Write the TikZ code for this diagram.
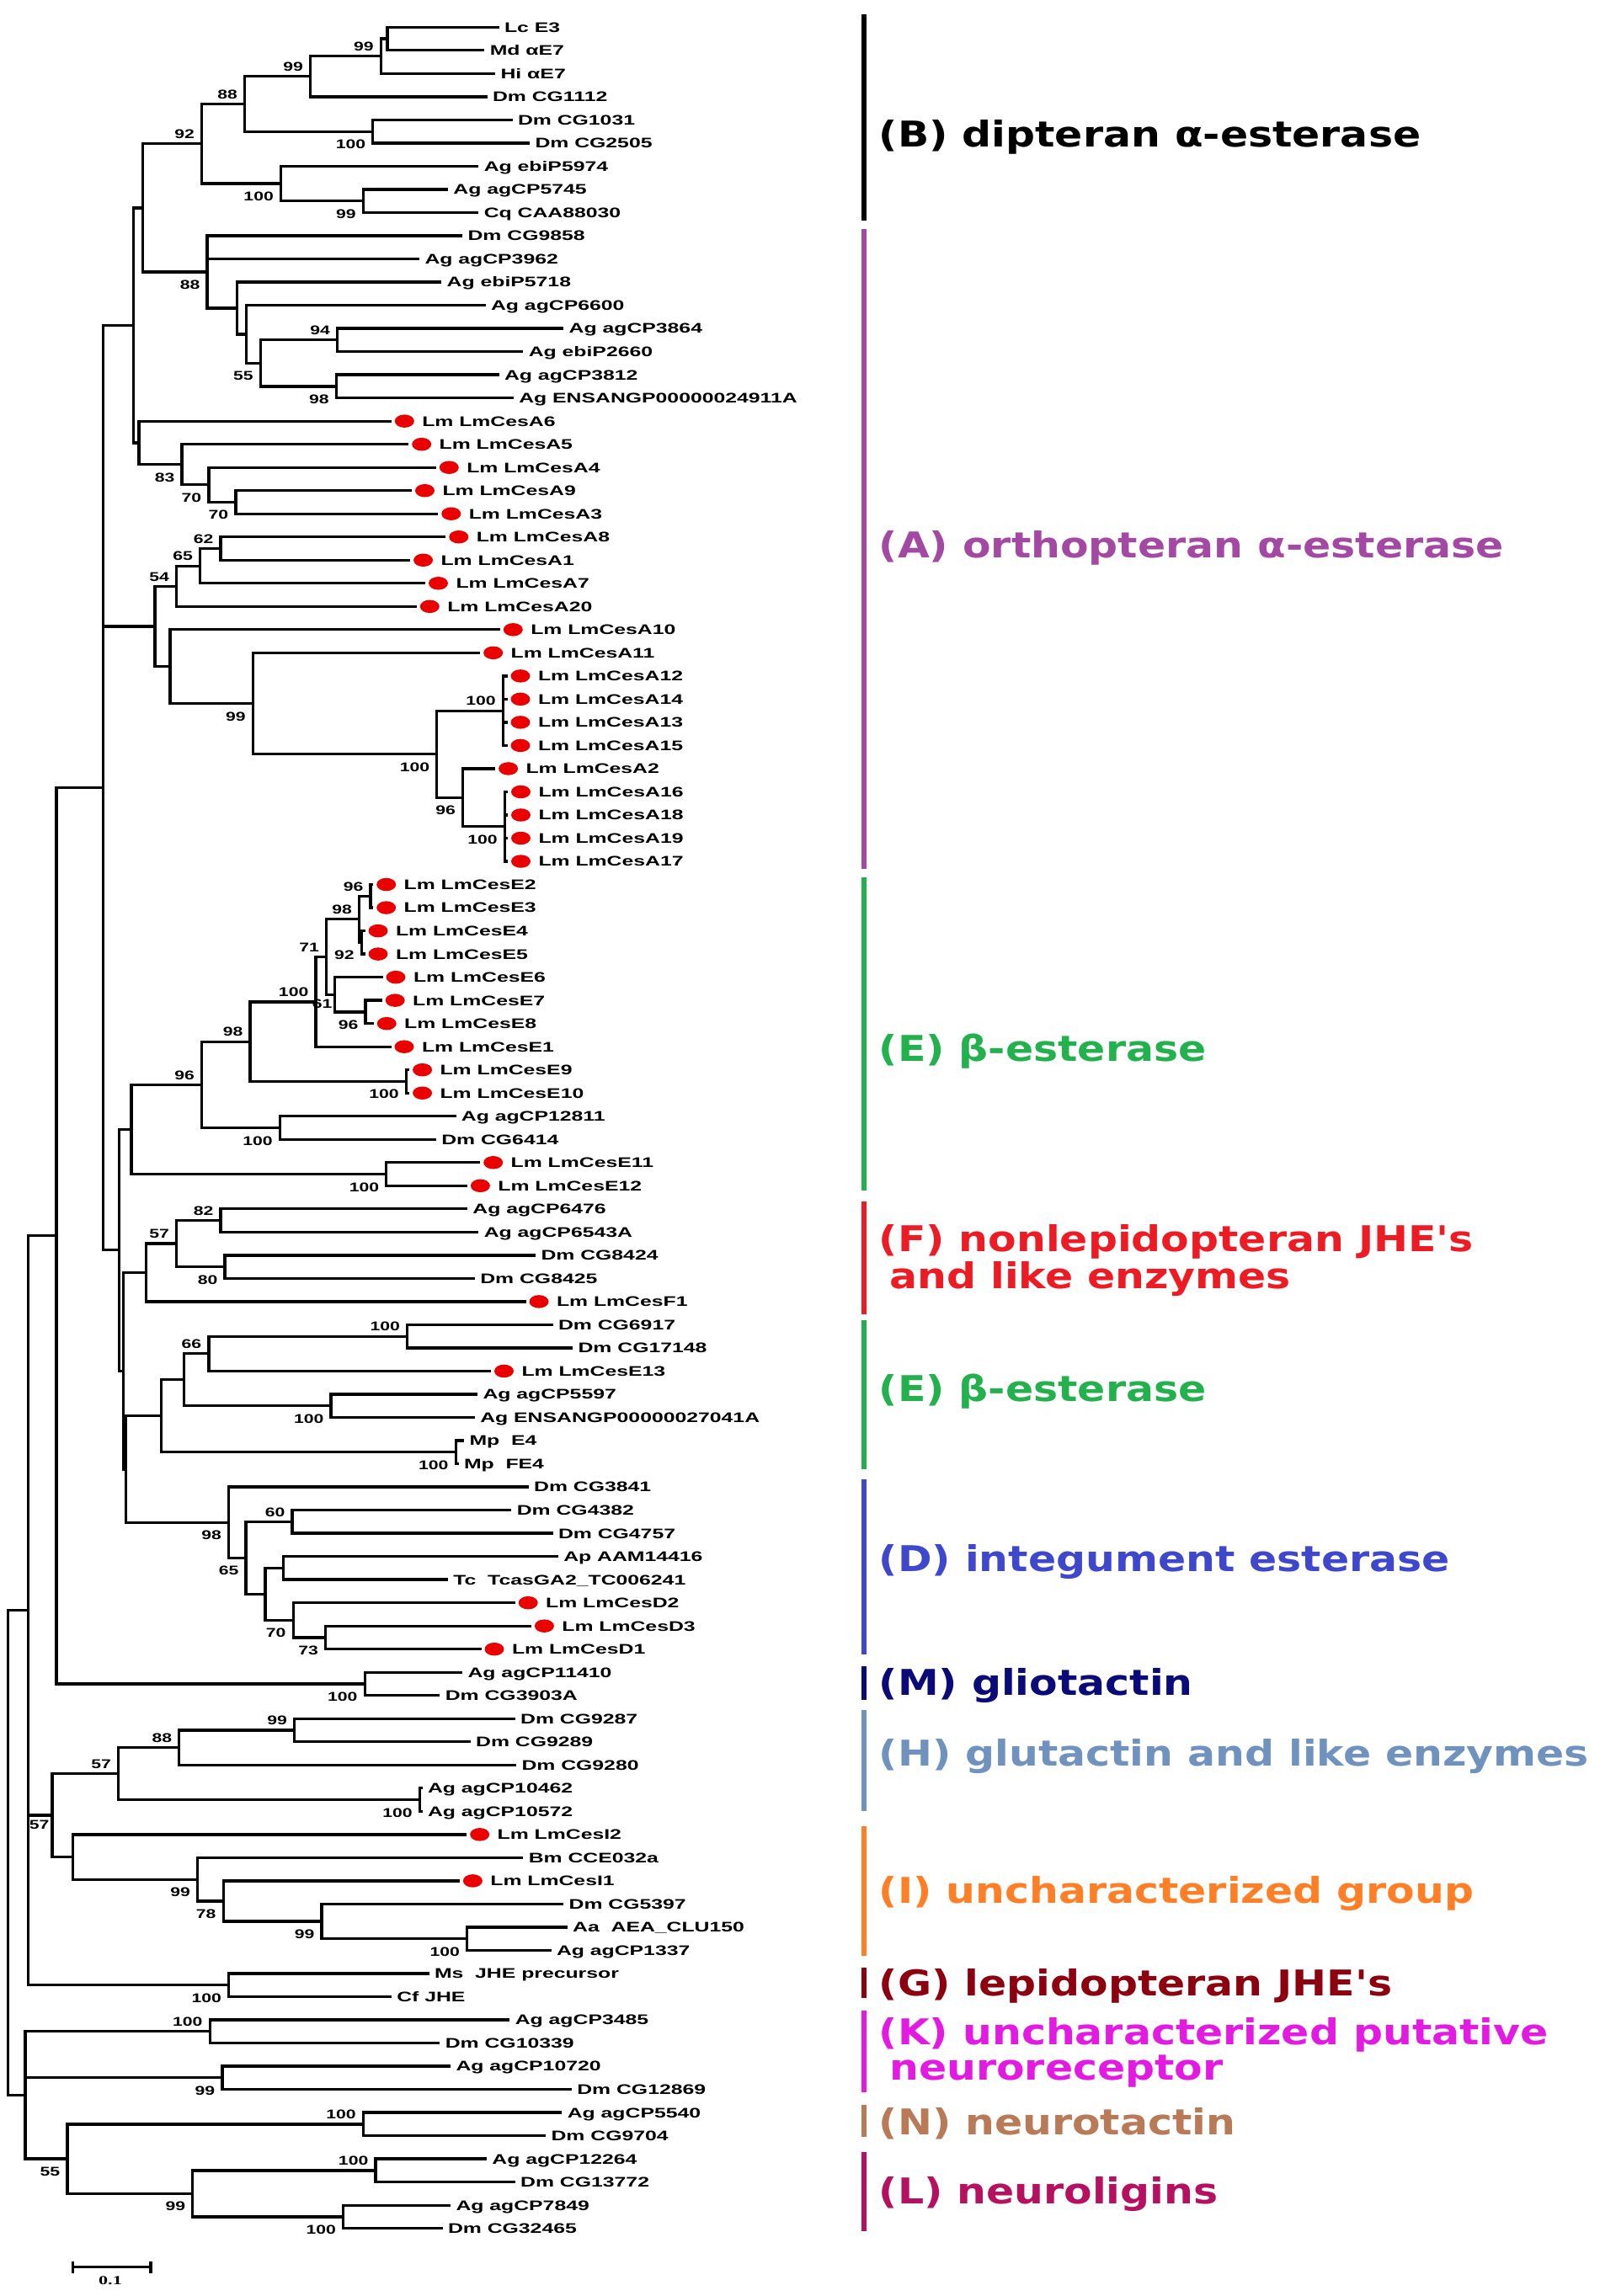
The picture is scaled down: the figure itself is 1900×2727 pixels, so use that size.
\documentclass[tikz,border=0pt]{standalone}
\usepackage{fontspec}
\usepackage{tikz}
\usetikzlibrary{positioning}
\usetikzlibrary{shapes.geometric}
\newfontfamily\treefont{Liberation Sans}[FakeStretch=1.5]
\newfontfamily\bootfont{Liberation Sans}[FakeStretch=1.4]
\newfontfamily\cladefont{DejaVu Sans}[FakeStretch=1.16]
\newfontfamily\barfont{Liberation Serif}[FakeStretch=1.5]
\definecolor{lmred}{RGB}{235,0,0}
\definecolor{cladeA}{RGB}{163,73,164}
\definecolor{cladeE}{RGB}{34,177,76}
\definecolor{cladeF}{RGB}{237,28,36}
\definecolor{cladeD}{RGB}{63,72,204}
\definecolor{cladeM}{RGB}{10,10,120}
\definecolor{cladeH}{RGB}{112,146,190}
\definecolor{cladeI}{RGB}{255,127,39}
\definecolor{cladeG}{RGB}{140,0,16}
\definecolor{cladeK}{RGB}{226,26,226}
\definecolor{cladeN}{RGB}{185,122,87}
\definecolor{cladeL}{RGB}{182,16,96}

\begin{document}
\begin{tikzpicture}[x=0.1mm, y=-0.1mm,
  branch/.style={line width=0.33mm, line cap=rect},
  tip/.style={anchor=west, inner sep=0pt, outer sep=0.8mm, text height=1.18mm, text depth=0pt,
    font=\treefont\bfseries\fontsize{4.7pt}{5.6pt}\selectfont},
  spot/.style={ellipse, fill=lmred, minimum width=2.3mm, minimum height=1.55mm, inner sep=0pt, outer sep=0.55mm},
  bs/.style={inner sep=0pt, text height=1.08mm, text depth=0pt, xshift=-0.8mm,
    font=\bootfont\bfseries\fontsize{4.3pt}{5pt}\selectfont},
  bsa/.style={bs, anchor=south east, yshift=0.55mm},
  bsb/.style={bs, anchor=north east, yshift=-0.9mm},
  cladebar/.style={line width=0.55mm},
  clade/.style={anchor=base west, inner sep=0pt, align=left,
    font=\cladefont\bfseries\fontsize{12pt}{11.6pt}\selectfont}]
\useasboundingbox (0,0) rectangle (1900,2727);

\begin{scope}[yshift=-0.478mm, y=-2.752mm]
	\node[tip] (LcE3) at (591.1,1) {Lc E3};
	\node[tip] (MdE7) at (573.8,2) {Md αE7};
	\node[tip] (HiE7) at (586.6,3) {Hi αE7};
	\node[tip] (CG1112) at (577,4) {Dm CG1112};
	\node[tip] (CG1031) at (607,5) {Dm CG1031};
	\node[tip] (CG2505) at (627.5,6) {Dm CG2505};
	\node[tip] (ebiP5974) at (566.8,7) {Ag ebiP5974};
	\node[tip] (agCP5745) at (530.4,8) {Ag agCP5745};
	\node[tip] (CAA88030) at (566.8,9) {Cq CAA88030};
	\node[tip] (CG9858) at (547.6,10) {Dm CG9858};
	\node[tip] (agCP3962) at (496.5,11) {Ag agCP3962};
	\node[tip] (ebiP5718) at (522.7,12) {Ag ebiP5718};
	\node[tip] (agCP6600) at (575.1,13) {Ag agCP6600};
	\node[tip] (agCP3864) at (667.7,14) {Ag agCP3864};
	\node[tip] (ebiP2660) at (619.8,15) {Ag ebiP2660};
	\node[tip] (agCP3812) at (591.1,16) {Ag agCP3812};
	\node[tip] (ENS24911) at (608.3,17) {Ag ENSANGP00000024911A};
	\node[tip] (agCP12811) at (539.9,48) {Ag agCP12811};
	\node[tip] (CG6414) at (516.3,49) {Dm CG6414};
	\node[tip] (agCP6476) at (553.4,52) {Ag agCP6476};
	\node[tip] (agCP6543A) at (566.8,53) {Ag agCP6543A};
	\node[tip] (CG8424) at (634.5,54) {Dm CG8424};
	\node[tip] (CG8425) at (562.3,55) {Dm CG8425};
	\node[tip] (CG6917) at (655,57) {Dm CG6917};
	\node[tip] (CG17148) at (678.6,58) {Dm CG17148};
	\node[tip] (agCP5597) at (565.5,60) {Ag agCP5597};
	\node[tip] (ENS27041) at (562.3,61) {Ag ENSANGP00000027041A};
	\node[tip] (MpE4) at (549.5,62) {Mp~~E4};
	\node[tip] (MpFE4) at (543,63) {Mp~~FE4};
	\node[tip] (CG3841) at (626.2,64) {Dm CG3841};
	\node[tip] (CG4382) at (605.8,65) {Dm CG4382};
	\node[tip] (CG4757) at (655,66) {Dm CG4757};
	\node[tip] (AAM14416) at (661.3,67) {Ap AAM14416};
	\node[tip] (TC006241) at (530.4,68) {Tc~~TcasGA2\_TC006241};
	\node[tip] (agCP11410) at (547.6,72) {Ag agCP11410};
	\node[tip] (CG3903A) at (520.8,73) {Dm CG3903A};
	\node[tip] (CG9287) at (610.2,74) {Dm CG9287};
	\node[tip] (CG9289) at (557.2,75) {Dm CG9289};
	\node[tip] (CG9280) at (611.5,76) {Dm CG9280};
	\node[tip] (agCP10462) at (500,77) {Ag agCP10462};
	\node[tip] (agCP10572) at (500,78) {Ag agCP10572};
	\node[tip] (CCE032a) at (619.8,80) {Bm CCE032a};
	\node[tip] (CG5397) at (667.7,82) {Dm CG5397};
	\node[tip] (CLU150) at (672.2,83) {Aa~~AEA\_CLU150};
	\node[tip] (agCP1337) at (653,84) {Ag agCP1337};
	\node[tip] (MsJHE) at (508,85) {Ms~~JHE precursor};
	\node[tip] (CfJHE) at (463.3,86) {Cf JHE};
	\node[tip] (agCP3485) at (603.8,87) {Ag agCP3485};
	\node[tip] (CG10339) at (520.8,88) {Dm CG10339};
	\node[tip] (agCP10720) at (533.5,89) {Ag agCP10720};
	\node[tip] (CG12869) at (677.3,90) {Dm CG12869};
	\node[tip] (agCP5540) at (665.8,91) {Ag agCP5540};
	\node[tip] (CG9704) at (646.6,92) {Dm CG9704};
	\node[tip] (agCP12264) at (576.4,93) {Ag agCP12264};
	\node[tip] (CG13772) at (610.2,94) {Dm CG13772};
	\node[tip] (agCP7849) at (533.5,95) {Ag agCP7849};
	\node[tip] (CG32465) at (524,96) {Dm CG32465};

	\foreach \n/\x/\r in {A6/480.3/18, A5/500.7/19, A4/533.3/20, A9/504.5/21, A3/535.8/22,
	    A8/544.8/23, A1/502.6/24, A7/520.5/25, A20/510.3/26, A10/609.3/27, A11/585.7/28,
	    A12/618/29, A14/618/30, A13/618/31, A15/618/32, A2/603.6/33,
	    A16/618.5/34, A18/618.5/35, A19/618.5/36, A17/618.5/37,
	    E2/458.7/38, E3/458.7/39, E4/449/40, E5/449/41, E6/470/42, E7/469.2/43, E8/459.2/44,
	    E1/480/45, E9/501.6/46, E10/501.6/47, E11/585.7/50, E12/570.4/51, F1/640/56,
	    E13/598.5/59, D2/627.2/69, D3/646.4/70, D1/587/71, I2/569.7/79, I1/561.4/81}
	{
		\node[spot] (s\n) at (\x,\r) {};
		\node[tip, right=-0.4mm of s\n] (\n) {Lm LmCes\n};
	}

	\coordinate (bLM) at (460.1,1.5);
	\coordinate (bLMH) at (452.4,2.25);
	\coordinate (b14) at (368.7,3.125);
	\coordinate (b56) at (442.8,5.5);
	\coordinate (b16) at (290.7,4.3125);
	\coordinate (b89) at (431.3,8.5);
	\coordinate (b79) at (333.5,7.75);
	\coordinate (bB) at (239.6,6.03125);
	\coordinate (a1415) at (400.6,14.5);
	\coordinate (a1617) at (399.4,16.5);
	\coordinate (a1417) at (309.3,15.5);
	\coordinate (a1317) at (292.7,14.25);
	\coordinate (a1217) at (281.2,13.125);
	\coordinate (aAg) at (246,11.5625);
	\coordinate (bAg) at (169.3,8.796875);
	\coordinate (a2122) at (279.9,21.5);
	\coordinate (a2022) at (247.9,20.75);
	\coordinate (a1922) at (216,19.875);
	\coordinate (a1822) at (164.9,18.9375);
	\coordinate (bAgA) at (158.5,13.8671875);
	\coordinate (a2324) at (262,23.5);
	\coordinate (a2325) at (237.7,24.25);
	\coordinate (a2326) at (209.6,25.125);
	\coordinate (aP1) at (597.4,30.5);
	\coordinate (aP2) at (599.4,35.5);
	\coordinate (a3337) at (549.5,34.25);
	\coordinate (a2937) at (518.8,32.375);
	\coordinate (a2837) at (300.3,30.1875);
	\coordinate (a2737) at (201.9,28.59375);
	\coordinate (a2337) at (184,26.859375);
	\coordinate (e3839) at (440,38.5);
	\coordinate (e4041) at (429.4,40.5);
	\coordinate (e3841) at (426.5,39.5);
	\coordinate (e4344) at (434,43.5);
	\coordinate (e4244) at (397.2,42.75);
	\coordinate (e3844) at (387.5,41.125);
	\coordinate (e3845) at (375,43.0625);
	\coordinate (e4647) at (482.4,46.5);
	\coordinate (e3847) at (297.1,44.78125);
	\coordinate (e4849) at (332.3,48.5);
	\coordinate (e3849) at (239.6,46.640625);
	\coordinate (e5051) at (458.8,50.5);
	\coordinate (e3851) at (156,48.5703125);
	\coordinate (f5253) at (262,52.5);
	\coordinate (f5455) at (267.1,54.5);
	\coordinate (f5255) at (209.6,53.5);
	\coordinate (f5256) at (173.5,54.75);
	\coordinate (g5758) at (483.7,57.5);
	\coordinate (g5759) at (247.9,58.25);
	\coordinate (g6061) at (393,60.5);
	\coordinate (g5761) at (218.5,59.375);
	\coordinate (g6263) at (541.2,62.5);
	\coordinate (g5763) at (191.7,60.9375);
	\coordinate (d6566) at (347,65.5);
	\coordinate (d6768) at (336.7,67.5);
	\coordinate (d7071) at (386.6,70.5);
	\coordinate (d6971) at (348.2,69.75);
	\coordinate (d6771) at (315,68.625);
	\coordinate (d6571) at (292,67.0625);
	\coordinate (d6471) at (271.6,65.53125);
	\coordinate (nB) at (149.5,63.234375);
	\coordinate (nA) at (146.7,58.9921875);
	\coordinate (n222) at (141.8,53.78125);
	\coordinate (n192) at (122.7,33.82421875);
	\coordinate (m7273) at (433.2,72.5);
	\coordinate (n105) at (67.1,53.162109);
	\coordinate (h7475) at (349.5,74.5);
	\coordinate (h7476) at (212.8,75.25);
	\coordinate (h7778) at (498.4,77.5);
	\coordinate (h7478) at (140.6,76.375);
	\coordinate (i8384) at (554.6,83.5);
	\coordinate (i8284) at (382.1,82.75);
	\coordinate (i8184) at (265.2,81.875);
	\coordinate (i8084) at (234.5,80.9375);
	\coordinate (i7984) at (86.3,79.96875);
	\coordinate (hi) at (62,78.171875);
	\coordinate (g8586) at (271.6,85.5);
	\coordinate (n52) at (33.2,69.331055);
	\coordinate (k8788) at (249.2,87.5);
	\coordinate (k8990) at (263.9,89.5);
	\coordinate (n9192) at (431.3,91.5);
	\coordinate (l9394) at (446,93.5);
	\coordinate (l9596) at (407.7,95.5);
	\coordinate (l9396) at (228.8,94.5);
	\coordinate (nl) at (79.9,93);
	\coordinate (k47) at (30,90.25);
	\coordinate (root) at (9.6,79.790527);

	\foreach \p/\c in {bLM/LcE3, bLM/MdE7, bLMH/bLM, bLMH/HiE7, b14/bLMH, b14/CG1112,
	    b56/CG1031, b56/CG2505, b16/b14, b16/b56, b89/agCP5745, b89/CAA88030,
	    b79/ebiP5974, b79/b89, bB/b16, bB/b79,
	    a1415/agCP3864, a1415/ebiP2660, a1617/agCP3812, a1617/ENS24911, a1417/a1415, a1417/a1617,
	    a1317/agCP6600, a1317/a1417, a1217/ebiP5718, a1217/a1317,
	    aAg/CG9858, aAg/agCP3962, aAg/a1217, bAg/bB, bAg/aAg,
	    a2122/sA9, a2122/sA3, a2022/sA4, a2022/a2122, a1922/sA5, a1922/a2022,
	    a1822/sA6, a1822/a1922, bAgA/bAg, bAgA/a1822,
	    a2324/sA8, a2324/sA1, a2325/a2324, a2325/sA7, a2326/a2325, a2326/sA20,
	    aP1/sA12, aP1/sA14, aP1/sA13, aP1/sA15, aP2/sA16, aP2/sA18, aP2/sA19, aP2/sA17,
	    a3337/sA2, a3337/aP2, a2937/aP1, a2937/a3337, a2837/sA11, a2837/a2937,
	    a2737/sA10, a2737/a2837, a2337/a2326, a2337/a2737}
		\draw[branch] (\p) |- (\c);

	\foreach \p/\c in {e3839/sE2, e3839/sE3, e4041/sE4, e4041/sE5, e3841/e3839, e3841/e4041,
	    e4344/sE7, e4344/sE8, e4244/sE6, e4244/e4344, e3844/e3841, e3844/e4244,
	    e3845/e3844, e3845/sE1, e4647/sE9, e4647/sE10, e3847/e3845, e3847/e4647,
	    e4849/agCP12811, e4849/CG6414, e3849/e3847, e3849/e4849,
	    e5051/sE11, e5051/sE12, e3851/e3849, e3851/e5051,
	    f5253/agCP6476, f5253/agCP6543A, f5455/CG8424, f5455/CG8425,
	    f5255/f5253, f5255/f5455, f5256/f5255, f5256/sF1,
	    g5758/CG6917, g5758/CG17148, g5759/g5758, g5759/sE13,
	    g6061/agCP5597, g6061/ENS27041, g5761/g5759, g5761/g6061,
	    g6263/MpE4, g6263/MpFE4, g5763/g5761, g5763/g6263,
	    d6566/CG4382, d6566/CG4757, d6768/AAM14416, d6768/TC006241,
	    d7071/sD3, d7071/sD1, d6971/sD2, d6971/d7071, d6771/d6768, d6771/d6971,
	    d6571/d6566, d6571/d6771, d6471/CG3841, d6471/d6571,
	    nB/g5763, nB/d6471, nA/f5256, nA/nB, n222/e3851, n222/nA,
	    n192/bAgA, n192/a2337, n192/n222}
		\draw[branch] (\p) |- (\c);

	\foreach \p/\c in {m7273/agCP11410, m7273/CG3903A, n105/n192, n105/m7273,
	    h7475/CG9287, h7475/CG9289, h7476/h7475, h7476/CG9280,
	    h7778/agCP10462, h7778/agCP10572, h7478/h7476, h7478/h7778,
	    i8384/CLU150, i8384/agCP1337, i8284/CG5397, i8284/i8384,
	    i8184/sI1, i8184/i8284, i8084/CCE032a, i8084/i8184, i7984/sI2, i7984/i8084,
	    hi/h7478, hi/i7984, g8586/MsJHE, g8586/CfJHE,
	    n52/n105, n52/hi, n52/g8586,
	    k8788/agCP3485, k8788/CG10339, k8990/agCP10720, k8990/CG12869,
	    n9192/agCP5540, n9192/CG9704, l9394/agCP12264, l9394/CG13772,
	    l9596/agCP7849, l9596/CG32465, l9396/l9394, l9396/l9596,
	    nl/n9192, nl/l9396, k47/k8788, k47/k8990, k47/nl,
	    root/n52, root/k47}
		\draw[branch] (\p) |- (\c);

	\foreach \n/\v in {bLMH/99, b14/99, b16/88, bB/92, a1415/94, a2324/62, a2325/65, a2326/54,
	    aP1/100, e3839/96, e3841/98, e3844/71, e3845/100, e3847/98, e3849/96, f5253/82,
	    f5255/57, g5758/100, g5759/66, d6566/60, h7475/99, h7476/88, h7478/57,
	    k8788/100, n9192/100, l9394/100}
		\node[bsa] (bs\n) at (\n) {\v};

	\foreach \n/\v in {b56/100, b79/100, b89/99, aAg/88, a1417/55, a1617/98, a1922/83,
	    a2022/70, a2122/70, a2837/99, a2937/100, a3337/96, aP2/100, e4041/92, e4344/96,
	    e4647/100, e4849/100, e5051/100, f5455/80, g6061/100, g6263/100, d6471/98,
	    d6571/65, d6971/70, d7071/73, m7273/100, h7778/100, i8084/99, i8184/78,
	    i8284/99, i8384/100, g8586/100, k8990/99, l9396/99, l9596/100, nl/55}
		\node[bsb] (bs\n) at (\n) {\v};

	\node[bsb, xshift=0.6mm, yshift=0.4mm] (bse4244) at (e4244) {61};
	\node[bsb, xshift=0.5mm, yshift=0.4mm] (bshi) at (hi) {57};
\end{scope}

\coordinate (sbL) at (86.3,2692.7);
\coordinate (sbR) at (178.9,2692.7);
\draw[branch] (sbL) -- (sbR);
\draw[branch] ([yshift=0.55mm]sbL) -- ([yshift=-0.55mm]sbL);
\draw[branch] ([yshift=0.55mm]sbR) -- ([yshift=-0.55mm]sbR);
\node[inner sep=0pt, text height=1mm, text depth=0pt, font=\barfont\bfseries\fontsize{4.2pt}{5pt}\selectfont]
	(sbT) at (131,2708.3) {0.1};

\foreach \g/\c/\t/\b in {B/black/17/262, A/cladeA/272/1032, E1/cladeE/1042/1414,
    F/cladeF/1427/1561, E2/cladeE/1568/1745, D/cladeD/1757/1965, M/cladeM/1979/2019,
    H/cladeH/2031/2151, I/cladeI/2169/2323, G/cladeG/2337/2373, K/cladeK/2388/2485,
    N/cladeN/2500/2538, L/cladeL/2556/2650}
{
	\coordinate (top\g) at (1026,\t);
	\coordinate (bot\g) at (1026,\b);
	\draw[cladebar, \c] (top\g) -- (bot\g);
}

\node[clade] (labB) at (1043,174.4) {(B) dipteran α-esterase};
\node[clade, cladeA] (labA) at (1043,662) {(A) orthopteran α-esterase};
\node[clade, cladeE] (labE1) at (1043,1260) {(E) β-esterase};
\node[clade, cladeF] (labF) at (1043,1530.8) {(F) nonlepidopteran JHE's\\\hspace*{0.3em}and like enzymes};
\node[clade, cladeE] (labE2) at (1043,1664.5) {(E) β-esterase};
\node[clade, cladeD] (labD) at (1043,1866) {(D) integument esterase};
\node[clade, cladeM] (labM) at (1043,2013) {(M) gliotactin};
\node[clade, cladeH] (labH) at (1043,2097) {(H) glutactin and like enzymes};
\node[clade, cladeI] (labI) at (1043,2260) {(I) uncharacterized group};
\node[clade, cladeG] (labG) at (1043,2370.6) {(G) lepidopteran JHE's};
\node[clade, cladeK, font=\cladefont\bfseries\fontsize{12pt}{10pt}\selectfont] (labK) at (1043,2470.6)
	{(K) uncharacterized putative\\\hspace*{0.3em}neuroreceptor};
\node[clade, cladeN] (labN) at (1043,2535.3) {(N) neurotactin};
\node[clade, cladeL] (labL) at (1043,2617.6) {(L) neuroligins};
\end{tikzpicture}
\end{document}
